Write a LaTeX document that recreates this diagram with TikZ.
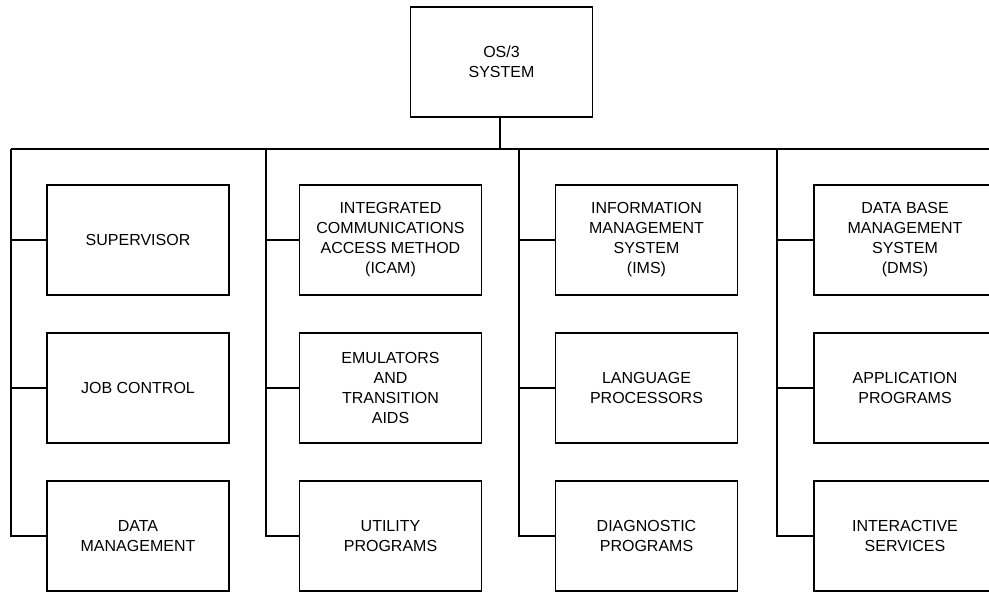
\documentclass[tikz,border=0pt]{standalone}
\usepackage{fontspec}
\setmainfont{Liberation Sans}
\begin{document}
\begin{tikzpicture}[x=1pt,y=-1pt,
  box/.style={draw, line width=1.5pt, minimum width=182pt, minimum height=110pt,
    align=center, inner sep=0pt, font=\fontsize{16}{20}\selectfont},
  wire/.style={line width=1.7pt, line join=miter}]
\useasboundingbox (0,0) rectangle (989,592);
\clip (-2,-2) rectangle (991,594);
% top
\node[box] (os) at (501.5,62) {OS/3\\SYSTEM};
% column 1
\node[box] (a1) at (138,240) {SUPERVISOR};
\node[box] (a2) at (138,388) {JOB CONTROL};
\node[box] (a3) at (138,536) {DATA\\MANAGEMENT};
% column 2
\node[box] (b1) at (390.5,240) {INTEGRATED\\COMMUNICATIONS\\ACCESS METHOD\\(ICAM)};
\node[box] (b2) at (390.5,388) {EMULATORS\\AND\\TRANSITION\\AIDS};
\node[box] (b3) at (390.5,536) {UTILITY\\PROGRAMS};
% column 3
\node[box] (c1) at (646.5,240) {INFORMATION\\MANAGEMENT\\SYSTEM\\(IMS)};
\node[box] (c2) at (646.5,388) {LANGUAGE\\PROCESSORS};
\node[box] (c3) at (646.5,536) {DIAGNOSTIC\\PROGRAMS};
% column 4 (cut off at the right edge)
\node[box] (d1) at (905,240) {DATA BASE\\MANAGEMENT\\SYSTEM\\(DMS)};
\node[box] (d2) at (905,388) {APPLICATION\\PROGRAMS};
\node[box] (d3) at (905,536) {INTERACTIVE\\SERVICES};
% bus
\coordinate (stem) at (500,149);
\coordinate (busL) at (11,149);
\coordinate (busR) at (995,149);
\coordinate (ta) at (11,149);
\coordinate (tb) at (266,149);
\coordinate (tc) at (519,149);
\coordinate (td) at (777,149);
\draw[wire] (os.south -| stem) -- (stem);
\draw[wire] (busL) -- (busR);
% column wires
\draw[wire] (ta) |- (a3.west);
\draw[wire] (a1.west) -- (a1.west -| ta);
\draw[wire] (a2.west) -- (a2.west -| ta);
\draw[wire] (tb) |- (b3.west);
\draw[wire] (b1.west) -- (b1.west -| tb);
\draw[wire] (b2.west) -- (b2.west -| tb);
\draw[wire] (tc) |- (c3.west);
\draw[wire] (c1.west) -- (c1.west -| tc);
\draw[wire] (c2.west) -- (c2.west -| tc);
\draw[wire] (td) |- (d3.west);
\draw[wire] (d1.west) -- (d1.west -| td);
\draw[wire] (d2.west) -- (d2.west -| td);
\end{tikzpicture}
\end{document}
